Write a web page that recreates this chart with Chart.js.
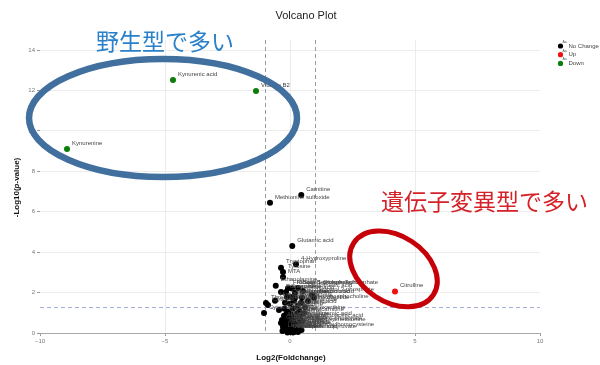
<!DOCTYPE html>
<html>
<head>
<meta charset="utf-8">
<script src="https://cdn.jsdelivr.net/npm/chart.js@4.4.1/dist/chart.umd.min.js"></script>
<style>
  html, body { margin: 0; padding: 0; background: #fff; }
  #wrap { position: relative; width: 600px; height: 365px; }
</style>
</head>
<body>
<div id="wrap"><canvas id="c" width="600" height="365"></canvas></div>
<script>
// ---- data: log2 fold change and -log10(p) per metabolite ----
const downNames = ["Kynurenine", "Kynurenic acid", "Vitamin B2"];
const downLog2FC = [-8.92, -4.68, -1.36];
const downLogP   = [9.10, 12.52, 11.98];

const upNames = ["Citrulline"];
const upLog2FC = [4.20];
const upLogP   = [2.05];

const noChangeNames = [
  "Carnitine", "Methionine sulfoxide", "Glutamic acid", "4-Hydroxyproline", "Tryptophan", "Tyrosine", "MTA",
  "Ethanolamine", "Fructose 1,6-bisphosphate", "Ribose 5-phosphate", "Sedoheptulose 7-phosphate", "Putrescine",
  "Spermidine", "Aspartic acid", "Pantothenic acid", "Glycerol 3-phosphate", "Succinic acid", "Glutathione",
  "Cystathionine", "Hypotaurine", "Ophthalmic acid", "Threonine", "Cytidine", "Cytosine", "Serine", "Histidine",
  "Creatine", "Glutathione disulfide", "Betaine", "Nicotinamide", "Glycerophosphocholine", "Malic acid", "Taurine",
  "Adenosine", "Inosine", "Uridine", "Hypoxanthine", "Alanine", "Glycine", "Valine", "Leucine", "Isoleucine",
  "Phenylalanine", "Lysine", "Arginine", "Ornithine", "Proline", "Asparagine", "Glutamine", "Methionine", "Cystine",
  "Choline", "Sarcosine", "Creatinine", "Pyroglutamic acid", "S-Adenosylmethionine", "S-Adenosylhomocysteine",
  "Guanidinoacetic acid", "AMP", "GMP", "UMP", "CMP", "NAD+", "Xanthine", "Uric acid", "Acetylcarnitine",
  "Carnosine", "Anserine", "Lactic acid", "Citric acid", "Fumaric acid", "Pyruvic acid", "Phosphoenolpyruvate",
  "Homocysteine", "ADP", "ATP", "Fructose 6-phosphate"
];
const noChangeLog2FC = [
  0.45, -0.80, 0.09, 0.24, -0.36, -0.28, -0.28,
  -0.57, -0.08, 0.08, 0.32, -0.36,
  -0.16, 0.20, 0.52, 0.88, 0.96, 0.04,
  -0.12, 0.20, 0.48, -0.96, -0.88, -1.04, -0.44, -0.60,
  -0.20, 0.00, 0.16, 0.30, 0.44, 0.60, 0.72,
  0.12, -0.08, 0.36, 0.56, -0.32, -0.24, -0.20, -0.16, -0.12,
  -0.08, -0.04, 0.00, 0.02, 0.06, 0.10, 0.14, 0.18, 0.22,
  0.26, 0.30, 0.34, 0.38, 0.42, 0.46,
  0.50, -0.28, -0.36, 0.08, -0.02, 0.28, 0.16, -0.10, 0.40,
  -0.22, 0.24, -0.30, 0.06, 0.32, -0.06, 0.12,
  -0.18, 0.20, -0.14, 0.36
];
const noChangeLogP = [
  6.83, 6.44, 4.31, 3.40, 3.23, 3.02, 2.77,
  2.34, 2.22, 2.20, 2.23, 2.03,
  2.03, 1.98, 2.08, 1.88, 1.74, 1.78,
  1.78, 1.73, 1.76, 1.49, 1.39, 0.99, 1.14, 1.60,
  1.50, 1.45, 1.60, 1.35, 1.50, 1.28, 1.58,
  1.20, 1.05, 1.10, 0.98, 0.64, 0.85, 0.40, 0.15, 0.55,
  0.25, 0.70, 0.05, 0.45, 0.90, 0.20, 0.60, 0.35, 0.80,
  0.10, 0.50, 0.25, 0.70, 0.40, 0.15,
  0.60, 0.30, 0.50, 0.75, 0.95, 0.95, 0.05, 0.02, 0.85,
  1.20, 0.30, 0.10, 0.35, 0.05, 0.50, 0.02,
  0.70, 0.15, 0.95, 0.45
];

const xTicks = [-10, -5, 0, 5, 10];
const yTicks = [0, 2, 4, 6, 8, 10, 12, 14];
const fcCutoff = 1;       // |log2 FC| threshold
const pCutoff = 0.05;     // p-value threshold

const toPoints = (xs, ys) => xs.map((v, i) => ({ x: v, y: ys[i] }));

// ---- overlay notes (anchored in data coordinates) ----
const notes = {
  wildText:   { text: "野生型で多い",       x: -7.76, y: 14.43, color: "#2a80c9" },
  mutantText: { text: "遺伝子変異型で多い", x: 3.64,  y: 6.51,  color: "#d52229" },
  wildRing:   { x: -5.08, y: 10.64, rx: 134, ry: 59, rot: 0,  width: 6.5, color: "#41709e" },
  mutantRing: { x: 4.14,  y: 3.17,  rx: 47.5, ry: 33, rot: 33, width: 5,  color: "#c50008" }
};

const FONT = '"Liberation Sans", Arial, sans-serif';

// threshold guide lines under the points
const cutoffLines = {
  id: 'cutoffLines',
  beforeDatasetsDraw(chart) {
    const { ctx, chartArea: a, scales: { x, y } } = chart;
    ctx.save();
    ctx.lineWidth = 1;
    ctx.setLineDash([4, 3]);
    ctx.strokeStyle = '#9c9c9c';
    [-fcCutoff, fcCutoff].forEach(v => {
      const px = Math.round(x.getPixelForValue(v)) + 0.5;
      ctx.beginPath(); ctx.moveTo(px, a.top); ctx.lineTo(px, a.bottom); ctx.stroke();
    });
    ctx.strokeStyle = '#a7aedb';
    const py = Math.round(y.getPixelForValue(-Math.log10(pCutoff))) + 0.5;
    ctx.beginPath(); ctx.moveTo(a.left, py); ctx.lineTo(a.right, py); ctx.stroke();
    ctx.restore();
  }
};

// metabolite names next to each point
const pointNames = {
  id: 'pointNames',
  afterDatasetsDraw(chart) {
    const { ctx } = chart;
    ctx.save();
    ctx.font = '6px ' + FONT;
    ctx.fillStyle = '#444';
    ctx.textAlign = 'left';
    ctx.textBaseline = 'middle';
    chart.data.datasets.forEach((ds, i) => {
      const meta = chart.getDatasetMeta(i);
      meta.data.forEach((pt, j) => {
        ctx.fillText(ds.names[j], pt.x + 5, pt.y - 6);
      });
    });
    ctx.restore();
  }
};

// title, axis titles, legend and the highlighted groups
const decorations = {
  id: 'decorations',
  afterDraw(chart) {
    const { ctx, chartArea: a, scales: { x, y } } = chart;
    ctx.save();

    // chart title
    ctx.fillStyle = '#222';
    ctx.font = '11px ' + FONT;
    ctx.textAlign = 'center';
    ctx.textBaseline = 'middle';
    ctx.fillText('Volcano Plot', 306, 16);

    // x title
    ctx.fillStyle = '#111';
    ctx.font = 'bold 8px ' + FONT;
    ctx.fillText('Log2(Foldchange)', (a.left + a.right) / 2 + 1, 358);

    // y title with italic p
    const parts = [['-Log10(', 'bold 8px '], ['p', 'italic bold 8px '], ['-value)', 'bold 8px ']];
    let total = 0;
    parts.forEach(p => { ctx.font = p[1] + FONT; total += ctx.measureText(p[0]).width; });
    ctx.save();
    ctx.translate(17, (a.top + a.bottom) / 2 + 1);
    ctx.rotate(-Math.PI / 2);
    ctx.textAlign = 'left';
    let cx = -total / 2;
    parts.forEach(p => { ctx.font = p[1] + FONT; ctx.fillText(p[0], cx, 0); cx += ctx.measureText(p[0]).width; });
    ctx.restore();

    // legend
    let ly = 46;
    chart.data.datasets.forEach(ds => {
      ctx.fillStyle = ds.backgroundColor;
      ctx.beginPath(); ctx.arc(560.5, ly, 2.6, 0, Math.PI * 2); ctx.fill();
      ctx.fillStyle = '#555';
      ctx.font = '3.5px ' + FONT;
      ctx.textAlign = 'left';
      ctx.fillText('Aa', 562.5, ly - 4);
      ctx.font = '6px ' + FONT;
      ctx.fillStyle = '#444';
      ctx.fillText(ds.label, 568.5, ly);
      ly += 8.7;
    });

    // highlighted groups
    [notes.wildRing, notes.mutantRing].forEach(r => {
      ctx.strokeStyle = r.color;
      ctx.lineWidth = r.width;
      ctx.beginPath();
      ctx.ellipse(x.getPixelForValue(r.x), y.getPixelForValue(r.y), r.rx, r.ry, r.rot * Math.PI / 180, 0, Math.PI * 2);
      ctx.stroke();
    });
    [notes.wildText, notes.mutantText].forEach(t => {
      ctx.fillStyle = t.color;
      ctx.font = '23px "Noto Sans CJK JP", sans-serif';
      ctx.textAlign = 'left';
      ctx.textBaseline = 'middle';
      ctx.fillText(t.text, x.getPixelForValue(t.x), y.getPixelForValue(t.y));
    });
    ctx.restore();
  }
};

const pointStyle = { pointRadius: 3, pointHoverRadius: 3, pointBorderWidth: 0, clip: false };

new Chart(document.getElementById('c'), {
  type: 'scatter',
  data: {
    datasets: [
      { label: 'No Change', names: noChangeNames, data: toPoints(noChangeLog2FC, noChangeLogP), backgroundColor: '#000000', ...pointStyle },
      { label: 'Up', names: upNames, data: toPoints(upLog2FC, upLogP), backgroundColor: '#ee1111', ...pointStyle },
      { label: 'Down', names: downNames, data: toPoints(downLog2FC, downLogP), backgroundColor: '#0a7d0a', ...pointStyle }
    ]
  },
  options: {
    responsive: false,
    animation: false,
    devicePixelRatio: 1,
    layout: { padding: { right: 60, left: 0, top: 40, bottom: 0 } },
    plugins: {
      legend: { display: false },
      tooltip: { enabled: false },
      title: { display: false }
    },
    scales: {
      x: {
        type: 'linear',
        min: -10, max: 10,
        afterFit: s => { s.height = 32; },
        afterBuildTicks: s => { s.ticks = xTicks.map(v => ({ value: v })); },
        ticks: {
          color: '#777', font: { family: FONT, size: 6 }, padding: 2, maxRotation: 0,
          callback: v => String(v).replace('-', '\u2212')
        },
        grid: {
          color: ctx => (ctx.tick && Math.abs(ctx.tick.value) === 10) ? 'rgba(0,0,0,0)' : '#ececec',
          tickColor: '#999', tickLength: 3, drawTicks: true
        },
        border: { display: true, color: '#aaa', width: 1 }
      },
      y: {
        type: 'linear',
        min: 0, max: 14.5,
        afterFit: s => { s.width = 40; },
        afterBuildTicks: s => { s.ticks = yTicks.map(v => ({ value: v })); },
        ticks: { color: '#777', font: { family: FONT, size: 6 }, padding: 2 },
        grid: { color: '#ececec', tickColor: '#999', tickLength: 3, drawTicks: true },
        border: { display: false }
      }
    }
  },
  plugins: [cutoffLines, pointNames, decorations]
});
</script>
</body>
</html>
